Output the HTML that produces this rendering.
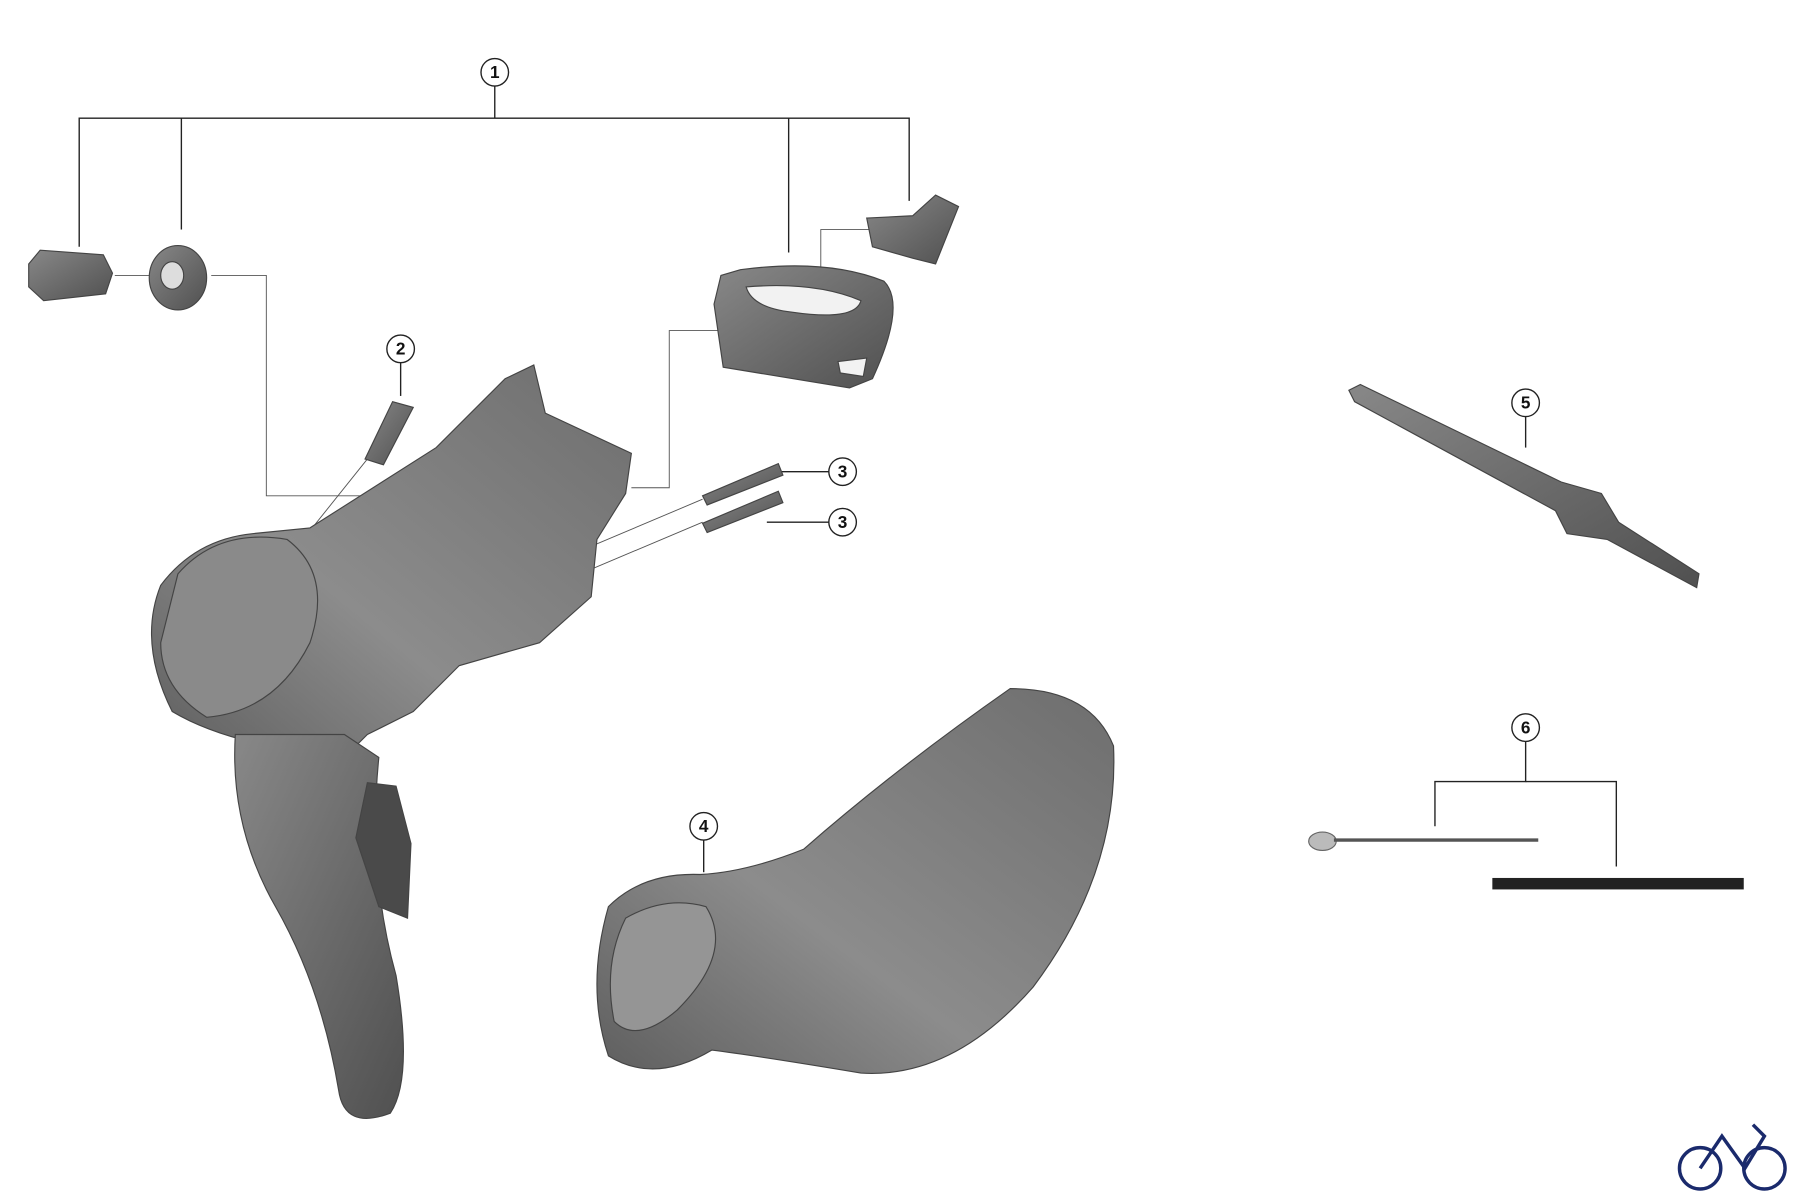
<!DOCTYPE html>
<html><head><meta charset="utf-8"><style>
html,body{margin:0;padding:0;background:#fff;width:1800px;height:1197px;overflow:hidden}
svg{display:block}
text{font-family:"Liberation Sans",sans-serif;font-weight:bold;font-size:15px;text-anchor:middle}
</style></head><body>
<svg width="1800" height="1197" viewBox="0 0 1568 1043" preserveAspectRatio="none">
<defs>
<linearGradient id="g" x1="0" y1="0" x2="1" y2="1"><stop offset="0" stop-color="#888"/><stop offset="1" stop-color="#505050"/></linearGradient>
<linearGradient id="g2" x1="1" y1="0" x2="0" y2="1"><stop offset="0" stop-color="#6e6e6e"/><stop offset="0.6" stop-color="#8c8c8c"/><stop offset="1" stop-color="#5e5e5e"/></linearGradient>
</defs>
<g stroke="#222" stroke-width="1.2" fill="none">
<line x1="431" y1="75" x2="431" y2="103"/>
<polyline points="69,215 69,103 792,103 792,175"/>
<line x1="158" y1="103" x2="158" y2="200"/>
<line x1="687" y1="103" x2="687" y2="220"/>
<line x1="349" y1="316" x2="349" y2="345"/>
<line x1="722" y1="411" x2="680" y2="411"/>
<line x1="722" y1="455" x2="668" y2="455"/>
<line x1="613" y1="732" x2="613" y2="760"/>
<line x1="1329" y1="363" x2="1329" y2="390"/>
<polyline points="1329,646 1329,681 1250,681 1250,720"/>
<polyline points="1329,681 1408,681 1408,755"/>
</g>
<g stroke="#555" stroke-width="0.8" fill="none">
<polyline points="184,240 232,240 232,432 340,432"/>
<line x1="100" y1="240" x2="140" y2="240"/>
<polyline points="550,425 583,425 583,288 628,288"/>
<polyline points="715,275 715,200 765,200"/>
<line x1="320" y1="400" x2="268" y2="465"/>
<line x1="612" y1="435" x2="470" y2="495"/>
<line x1="612" y1="455" x2="470" y2="515"/>
</g>
<g fill="#fff" stroke="#222" stroke-width="1.2">
<circle cx="431" cy="63" r="12"/><circle cx="349" cy="304" r="12"/>
<circle cx="734" cy="411" r="12"/><circle cx="734" cy="455" r="12"/>
<circle cx="613" cy="720" r="12"/><circle cx="1329" cy="351" r="12"/><circle cx="1329" cy="634" r="12"/>
</g>
<g fill="#111">
<text x="431" y="68">1</text><text x="349" y="309">2</text><text x="734" y="416">3</text><text x="734" y="460">3</text>
<text x="613" y="725">4</text><text x="1329" y="356">5</text><text x="1329" y="639">6</text>
</g>
<g fill="url(#g)" stroke="#444" stroke-width="1">
<path d="M25,230 L35,218 L90,222 L98,238 L92,256 L38,262 L25,250Z"/>
<ellipse cx="155" cy="242" rx="25" ry="28"/>
<ellipse cx="150" cy="240" rx="10" ry="12" fill="#ddd"/>
<path d="M628,240 L645,235 Q720,225 770,245 Q790,265 760,330 L740,338 L630,320 L622,265Z"/>
<path d="M650,250 Q710,245 750,262 Q745,280 690,272 Q655,268 650,250Z" fill="#f2f2f2"/>
<path d="M730,315 L755,312 L752,328 L732,325Z" fill="#f2f2f2"/>
<path d="M755,190 L795,188 L815,170 L835,180 L815,230 L795,225 L760,215Z"/>
<path d="M318,400 L342,350 L360,355 L334,405Z"/>
<path d="M612,432 L678,404 L682,414 L616,440Z"/>
<path d="M612,456 L678,428 L682,438 L616,464Z"/>
<path d="M270,460 L380,390 L440,330 L465,318 L475,360 L550,395 L545,430 L520,470 L515,520 L470,560 L400,580 L360,620 L320,640 L300,660 Q200,650 150,620 Q120,560 140,510 Q170,470 220,465Z" fill="url(#g2)"/>
<path d="M155,500 Q190,460 250,470 Q290,500 270,560 Q240,620 180,625 Q140,600 140,560Z" fill="#8a8a8a"/>
<path d="M205,640 L300,640 L330,660 Q320,760 345,850 Q360,940 340,970 Q300,985 295,950 Q280,860 240,790 Q200,720 205,640Z"/>
<path d="M320,682 L345,685 L358,735 L355,800 L330,790 L310,730Z" fill="#4a4a4a"/>
<path d="M530,790 Q560,760 610,762 Q650,760 700,740 Q780,670 880,600 Q950,600 970,650 Q975,760 900,860 Q830,940 750,935 Q660,920 620,915 Q570,945 530,920 Q510,860 530,790Z" fill="url(#g2)"/>
<path d="M545,800 Q580,780 615,790 Q640,830 590,880 Q555,910 535,890 Q525,840 545,800Z" fill="#959595"/>
<path d="M1175,340 L1185,335 L1360,420 L1395,430 L1410,455 L1480,500 L1478,512 L1400,470 L1365,465 L1355,445 L1180,350Z"/>
</g>
<ellipse cx="1152" cy="733" rx="12" ry="8" fill="#bbb" stroke="#666"/>
<line x1="1162" y1="732" x2="1340" y2="732" stroke="#555" stroke-width="3"/>
<rect x="1300" y="765" width="219" height="10" fill="#222"/>
<g fill="none" stroke="#1a2a6c" stroke-width="3">
<circle cx="1481" cy="1018" r="18"/><circle cx="1537" cy="1018" r="18"/>
<polyline points="1481,1018 1500,990 1520,1018 1537,990 1527,980"/>
</g>
</svg>
</body></html>
